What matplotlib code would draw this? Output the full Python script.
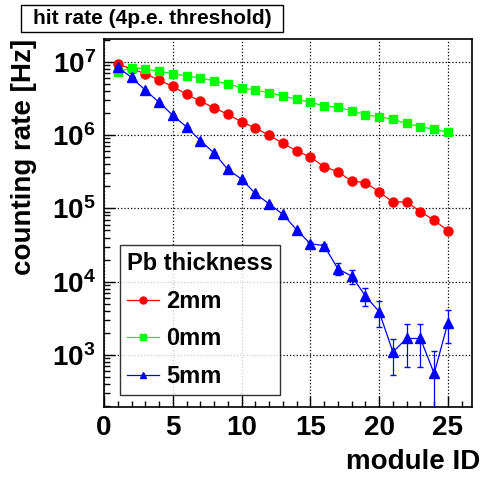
import numpy as np
import matplotlib
matplotlib.use("Agg")
import matplotlib.pyplot as plt
from matplotlib.lines import Line2D
from matplotlib.patches import Rectangle
from matplotlib.ticker import FixedLocator, LogLocator, NullFormatter, FuncFormatter

plt.rcParams['font.family'] = ['Liberation Sans', 'DejaVu Sans']
plt.rcParams['font.weight'] = 'bold'
plt.rcParams['mathtext.fontset'] = 'custom'
plt.rcParams['mathtext.rm'] = 'Liberation Sans:bold'
plt.rcParams['mathtext.bf'] = 'Liberation Sans:bold'
plt.rcParams['mathtext.default'] = 'bf'

# data
module_id = np.arange(1, 26)

rate_2mm = [9.3e6, 8.0e6, 6.9e6, 5.6e6, 4.6e6, 3.6e6, 2.9e6, 2.36e6, 1.91e6, 1.52e6,
            1.24e6, 1.0e6, 7.7e5, 6.1e5, 5.0e5, 3.7e5, 3.16e5, 2.36e5, 2.24e5, 1.69e5,
            1.21e5, 1.23e5, 9.0e4, 6.9e4, 4.95e4]

rate_0mm = [7.3e6, 8.3e6, 8.0e6, 7.4e6, 6.9e6, 6.4e6, 6.0e6, 5.5e6, 5.0e6, 4.4e6,
            4.1e6, 3.8e6, 3.4e6, 3.1e6, 2.8e6, 2.5e6, 2.4e6, 2.15e6, 1.88e6, 1.78e6,
            1.64e6, 1.44e6, 1.30e6, 1.2e6, 1.09e6]

rate_5mm = [8.5e6, 6.1e6, 4.1e6, 2.8e6, 1.86e6, 1.29e6, 8.4e5, 5.7e5, 3.4e5, 2.5e5,
            1.6e5, 1.15e5, 8.3e4, 5.1e4, 3.3e4, 3.1e4, 1.5e4, 1.19e4, 6.4e3, 3.9e3,
            1.1e3, 1.68e3, 1.68e3, 5.6e2, 2.75e3]
err_5mm = [0, 0, 0, 0, 0, 0, 0, 0, 0, 0,
           0, 0, 0, 0, 1.5e3, 1.5e3, 2.7e3, 2.5e3, 1.8e3, 1.5e3,
           5.6e2, 1.0e3, 1.0e3, 5.8e2, 1.3e3]

series_labels = ['2mm', '0mm', '5mm']
series_colors = ['#ff0000', '#00ff00', '#0000ff']
series_markers = ['o', 's', '^']

fig = plt.figure(figsize=(4.83, 4.80), dpi=100)
ax = fig.add_axes([0.2153, 0.152, 0.7619, 0.767])

ax.plot(module_id, rate_2mm, color='#ff0000', marker='o', markersize=6.5,
        linewidth=0.9, zorder=3)
ax.plot(module_id, rate_0mm, color='#00ff00', marker='s', markersize=5.5,
        linewidth=0.9, zorder=4)
ax.errorbar(module_id, rate_5mm, yerr=err_5mm, color='#0000ff', marker='^',
            markersize=6.5, linewidth=0.9, elinewidth=0.9, capsize=2, zorder=5)

ax.set_yscale('log')
ax.set_xlim(0, 26.75)
ax.set_ylim(195, 2.05e7)

ax.xaxis.set_major_locator(FixedLocator([0, 5, 10, 15, 20, 25]))
ax.xaxis.set_minor_locator(FixedLocator(np.arange(0, 27, 1)))
ax.yaxis.set_major_locator(LogLocator(base=10, numticks=10))
ax.yaxis.set_minor_locator(LogLocator(base=10, subs=np.arange(2, 10), numticks=20))
ax.yaxis.set_minor_formatter(NullFormatter())
ax.yaxis.set_major_formatter(FuncFormatter(lambda v, p: r'$10^{%d}$' % round(np.log10(v))))

ax.tick_params(which='both', direction='in', top=False, right=False, width=1)
ax.tick_params(which='major', length=8, labelsize=20, pad=6)
ax.tick_params(which='minor', length=4)
for lab in ax.get_xticklabels():
    lab.set_fontweight('bold')

ax.grid(True, which='major', color='black', linestyle=':', linewidth=0.9)
for s in ax.spines.values():
    s.set_linewidth(1.2)

ax.set_xlabel('module ID', fontsize=20, fontweight='bold', loc='right')
ax.xaxis.set_label_coords(1.022, -0.113)
ax.set_ylabel('counting rate [Hz]', fontsize=20, fontweight='bold', loc='top')
ax.yaxis.set_label_coords(-0.181, 1.0)

handles = [Line2D([], [], color=c, marker=m, markersize=5, linewidth=0.9)
           for c, m in zip(series_colors, series_markers)]
leg = ax.legend(handles, series_labels, title='Pb thickness', loc='lower left',
                bbox_to_anchor=(0.0236, 0.013), fontsize=17, title_fontsize=17,
                frameon=True, fancybox=False, edgecolor='black',
                handlelength=1.35, handletextpad=0.3, labelspacing=0.62,
                borderpad=0.3, borderaxespad=0.3)
leg.get_title().set_fontweight('bold')
leg._legend_box.align = 'left'
leg.get_frame().set_linewidth(1.0)

fig.patches.append(Rectangle((21 / 483, 1 - 32 / 480), 262 / 483, 27 / 480,
                             transform=fig.transFigure, facecolor='white',
                             edgecolor='black', linewidth=1))
fig.text((21 + 131) / 483, 1 - 18.5 / 480, 'hit rate (4p.e. threshold)', fontsize=15,
         fontweight='bold', ha='center', va='center')

fig.savefig('out.png', dpi=100)
